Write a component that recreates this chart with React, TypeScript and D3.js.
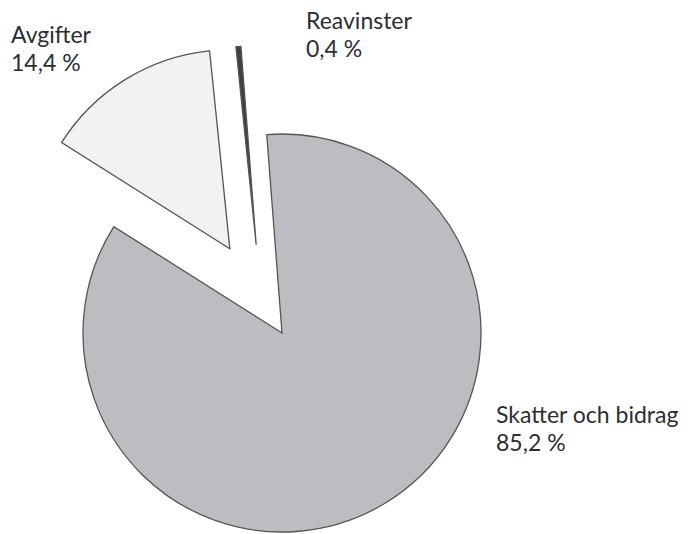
import React from "react";
import * as d3 from "d3";

const categories = ["Skatter och bidrag", "Avgifter", "Reavinster"];
const values = [85.2, 14.4, 0.4];
const valueLabels = ["85,2 %", "14,4 %", "0,4 %"];

const WIDTH = 688;
const HEIGHT = 534;
const CX = 282;
const CY = 333;
const R = 199;
const START_DEG = -4.4;
const fills = ["#bcbdc1", "#f1f2f4", "#404040"];
// explode: [distance, direction in degrees (0 = up, clockwise)]
const explode: [number, number][] = [[0, 0], [99, -31.8], [92, -16.3]];
const labelPos: [number, number][] = [[496, 423], [11, 43], [306, 29]];
const LINE_H = 28;

export default function App() {
  const pie = d3
    .pie<number>()
    .sort(null)
    .value((d) => d)
    .startAngle((START_DEG * Math.PI) / 180)
    .endAngle(((START_DEG + 360) * Math.PI) / 180);
  const arcs = pie(values);
  const arc = d3.arc<d3.PieArcDatum<number>>().innerRadius(0).outerRadius(R);

  return (
    <svg
      width={WIDTH}
      height={HEIGHT}
      style={{ position: "absolute", left: 0, top: 0, display: "block" }}
    >
      <rect width={WIDTH} height={HEIGHT} fill="#ffffff" />
      {arcs.map((a, i) => {
        const [dist, deg] = explode[i];
        const rad = (deg * Math.PI) / 180;
        const dx = dist * Math.sin(rad);
        const dy = -dist * Math.cos(rad);
        return (
          <path
            key={categories[i]}
            d={arc(a) || ""}
            transform={`translate(${CX + dx},${CY + dy})`}
            fill={fills[i]}
            stroke="#555555"
            strokeWidth={1.3}
            strokeLinejoin="miter"
          />
        );
      })}
      {categories.map((c, i) => (
        <text
          key={c}
          x={labelPos[i][0]}
          y={labelPos[i][1]}
          fontFamily="Lato, 'Open Sans', sans-serif"
          fontSize={23}
          fill="#2b2e33"
        >
          <tspan x={labelPos[i][0]}>{c}</tspan>
          <tspan x={labelPos[i][0]} dy={LINE_H}>
            {valueLabels[i]}
          </tspan>
        </text>
      ))}
    </svg>
  );
}
